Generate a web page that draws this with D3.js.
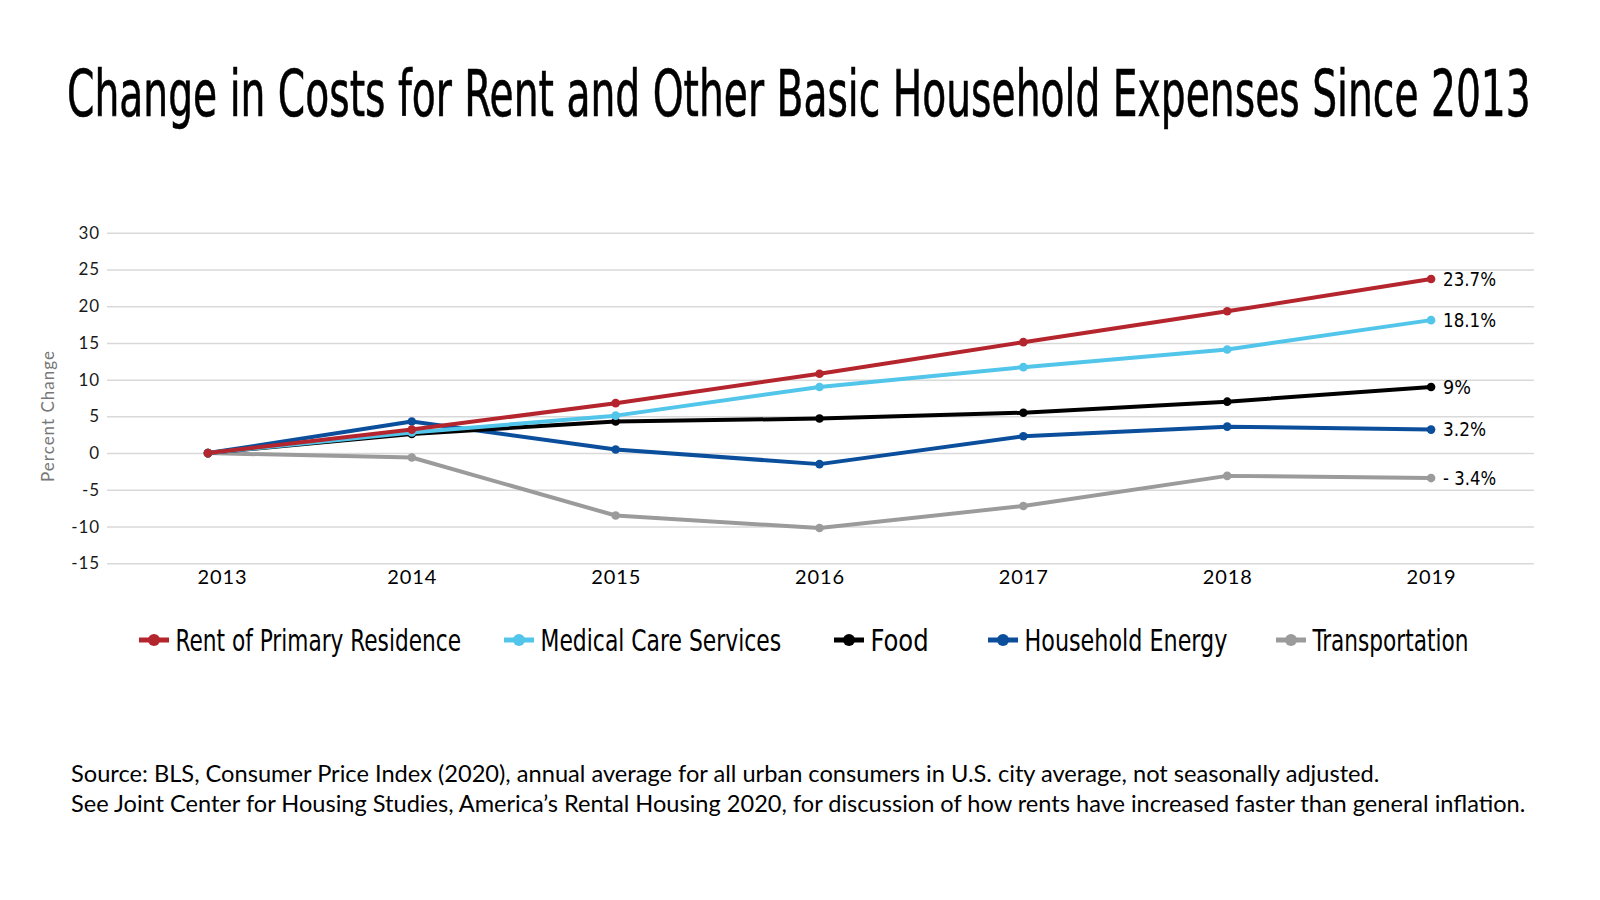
<!DOCTYPE html>
<html>
<head>
<meta charset="utf-8">
<script src="https://cdn.jsdelivr.net/npm/d3@7"></script>
<style>
  html, body { margin: 0; padding: 0; background: #fff; }
  svg { display: block; }
</style>
</head>
<body>
<svg id="chart" width="1600" height="900"></svg>
<script>
// ---- data ----
const years = ["2013", "2014", "2015", "2016", "2017", "2018", "2019"];
const rent = [0, 3.2, 6.8, 10.8, 15.1, 19.3, 23.7];
const medical = [0, 2.8, 5.1, 9.0, 11.7, 14.1, 18.1];
const food = [0, 2.6, 4.3, 4.7, 5.5, 7.0, 9.0];
const energy = [0, 4.3, 0.5, -1.5, 2.3, 3.6, 3.2];
const transport = [0, -0.6, -8.5, -10.2, -7.2, -3.1, -3.4];
const seriesNames = ["Rent of Primary Residence", "Medical Care Services", "Food", "Household Energy", "Transportation"];
const endLabels = ["23.7%", "18.1%", "9%", "3.2%", "- 3.4%"];
const yTicks = [-15, -10, -5, 0, 5, 10, 15, 20, 25, 30];
const titleText = "Change in Costs for Rent and Other Basic Household Expenses Since 2013";
const sourceLines = [
  "Source: BLS, Consumer Price Index (2020), annual average for all urban consumers in U.S. city average, not seasonally adjusted.",
  "See Joint Center for Housing Studies, America\u2019s Rental Housing 2020, for discussion of how rents have increased faster than general inflation."
];

// ---- styles ----
const colors = ["#b5252d", "#52c5ea", "#000000", "#0a4e9c", "#9b9b9b"];
const condensed = "'Liberation Sans Narrow', 'DejaVu Sans Condensed', 'Roboto Condensed', sans-serif";
const plain = "Lato, 'Open Sans', sans-serif";

// fit a text element's font size so its natural width matches a target width
function fitWidth(sel, target, baseSize) {
  sel.each(function (d, i) {
    const t = typeof target === "function" ? target(d, i) : target;
    const el = d3.select(this);
    el.style("font-size", baseSize + "px");
    const w = this.getComputedTextLength();
    if (w > 0) el.style("font-size", (baseSize * t / w).toFixed(2) + "px");
  });
}
// squeeze a text horizontally (keeps font height) so it spans a target width
function squeeze(sel, x0, y0, target) {
  sel.each(function (d, i) {
    const t = typeof target === "function" ? target(d, i) : target;
    const xx = typeof x0 === "function" ? x0(d, i) : x0;
    const yy = typeof y0 === "function" ? y0(d, i) : y0;
    const w = this.getComputedTextLength();
    const k = w > 0 ? t / w : 1;
    d3.select(this).attr("x", 0).attr("y", 0)
      .attr("transform", `translate(${xx},${yy}) scale(${k.toFixed(4)},1)`);
  });
}

const seriesData = [rent, medical, food, energy, transport].map((vals, i) => ({
  name: seriesNames[i], color: colors[i], label: endLabels[i],
  values: vals.map((v, j) => ({ year: years[j], value: v }))
}));

const svg = d3.select("#chart");
svg.append("rect").attr("width", 1600).attr("height", 900).attr("fill", "#fff");

// Title
const title = svg.append("text")
  .style("font-family", condensed).style("font-size", "64px")
  .attr("fill", "#000").attr("stroke", "#000").attr("stroke-width", 0.6)
  .text(titleText);
squeeze(title, 67, 116, 1464);

// Scales
const plotLeft = 107, plotRight = 1534;
const x = d3.scalePoint().domain(years).range([106, 1533]).padding(0.5);
const y = d3.scaleLinear().domain([-15, 30]).range([563.3, 232.7]);

// Y axis / gridlines
const yAxis = d3.axisLeft(y).tickValues(yTicks).tickSizeInner(-(plotRight - plotLeft)).tickSizeOuter(0).tickPadding(7).tickFormat(d => String(d));
const gy = svg.append("g").attr("transform", `translate(${plotLeft},0)`).call(yAxis);
gy.select(".domain").remove();
gy.selectAll(".tick line").attr("stroke", "#d9d9d9").attr("stroke-width", 1.5);
gy.selectAll(".tick text")
  .style("font-family", plain).style("font-size", "17px").style("letter-spacing", "0.9px")
  .attr("fill", "#1a1a1a");

// Y axis title
svg.append("text")
  .attr("transform", "translate(54,416) rotate(-90)")
  .attr("text-anchor", "middle")
  .style("font-family", plain).style("font-size", "17px").style("letter-spacing", "1px")
  .attr("fill", "#777")
  .text("Percent Change");

// X axis labels
const xAxis = d3.axisBottom(x).tickSize(0).tickPadding(0);
const gx = svg.append("g").attr("transform", `translate(0,568)`).call(xAxis);
gx.select(".domain").remove();
gx.selectAll(".tick text")
  .attr("dy", "0.8em")
  .attr("dx", (d, i) => i === 0 ? 14 : 0)
  .style("font-family", plain).style("font-size", "20px").style("letter-spacing", "0.9px")
  .attr("fill", "#000");

// Lines
const line = d3.line().x(d => x(d.year)).y(d => y(d.value));
const gs = svg.append("g").selectAll("g.series").data(seriesData.slice().reverse()).join("g");
gs.append("path")
  .attr("d", d => line(d.values))
  .attr("fill", "none").attr("stroke", d => d.color)
  .attr("stroke-width", 4).attr("stroke-linejoin", "round");
gs.selectAll("circle").data(d => d.values.map(v => ({ ...v, color: d.color }))).join("circle")
  .attr("cx", d => x(d.year)).attr("cy", d => y(d.value)).attr("r", 4.3)
  .attr("fill", d => d.color);

// End labels
const endW = [53, 53, 28, 43, 53];
const endT = svg.append("g").selectAll("text").data(seriesData).join("text")
  .attr("dy", "0.35em")
  .style("font-family", condensed).style("font-size", "19px")
  .attr("fill", "#000")
  .text(d => d.label);
squeeze(endT,
  d => x(years[years.length - 1]) + 12,
  d => y(d.values[d.values.length - 1].value),
  (d, i) => endW[i]);

// Legend
const legendX = [139, 504, 834, 988, 1276];
const legendW = [285.7, 240.8, 58.2, 203, 156];
const legendY = 640;
const lg = svg.append("g").selectAll("g").data(seriesData).join("g")
  .attr("transform", (d, i) => `translate(${legendX[i]},${legendY})`);
lg.append("line").attr("x1", 0).attr("x2", 30).attr("y1", 0).attr("y2", 0)
  .attr("stroke", d => d.color).attr("stroke-width", 5);
lg.append("circle").attr("cx", 15).attr("cy", 0).attr("r", 6).attr("fill", d => d.color);
const lgText = lg.append("text")
  .style("font-family", condensed).style("font-size", "31px")
  .attr("fill", "#000")
  .text(d => d.name);
squeeze(lgText, 36.5, 11, (d, i) => legendW[i]);

// Source
const srcW = [1309, 1455];
const src = svg.append("g").selectAll("text").data(sourceLines).join("text")
  .attr("x", 71).attr("y", (d, i) => 781.5 + i * 30.6)
  .style("font-family", plain)
  .attr("fill", "#000")
  .text(d => d);
fitWidth(src, (d, i) => srcW[i], 23);
</script>
</body>
</html>
